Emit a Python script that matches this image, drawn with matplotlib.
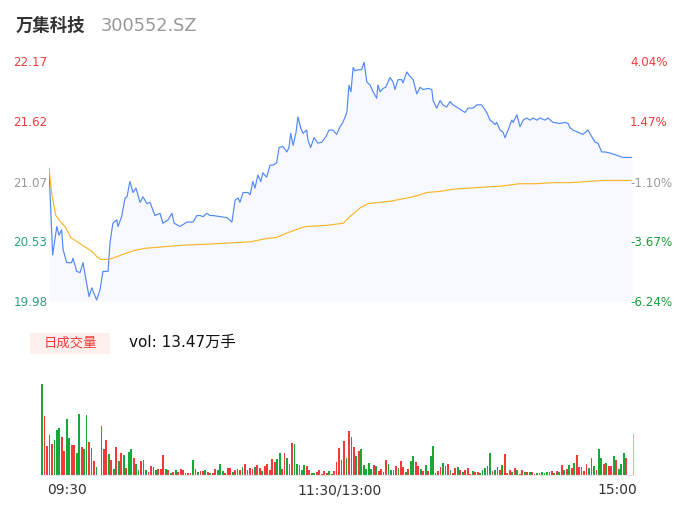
import matplotlib
matplotlib.use("Agg")
import matplotlib.pyplot as plt
from matplotlib.patches import Rectangle
import matplotlib.transforms as transforms

plt.rcParams['font.family'] = ['DejaVu Sans', 'Noto Sans CJK SC']

# Stock info / header texts
stock_name = "万集科技"
stock_code = "300552.SZ"
vol_badge = "日成交量"
vol_text = "vol: 13.47万手"

# Price axis labels (left = price, right = change)
price_ticks = [22.17, 21.62, 21.07, 20.53, 19.98]
pct_labels = ["4.04%", "1.47%", "-1.10%", "-3.67%", "-6.24%"]
tick_side = ["up", "up", "flat", "down", "down"]
time_labels = ["09:30", "11:30/13:00", "15:00"]

# Intraday price (minutes since 09:30, trading minutes only)
price_t = [0, 1.5, 3.2, 4.1, 5.2, 5.8, 7.3, 9.3, 9.9, 11.4,
           12.8, 14.0, 15.5, 16.5, 17.6, 18.5, 19.6, 21.0, 22.2, 24.3,
           25.1, 26.3, 27.9, 28.4, 29.9, 31.3, 32.1, 33.3, 34.6, 35.8,
           37.5, 38.7, 40.3, 41.6, 43.6, 45.7, 46.9, 49.0, 50.6, 51.5,
           53.9, 56.8, 59.3, 60.9, 62.2, 63.4, 65.0, 66.3, 67.5, 70.4,
           73.3, 75.3, 76.6, 77.8, 78.6, 79.9, 81.9, 82.8, 83.9, 84.8,
           86.0, 87.2, 88.0, 89.6, 91.0, 92.2, 93.7, 94.7, 96.3, 97.9,
           98.8, 99.5, 100.5, 101.7, 102.5, 103.6, 104.6, 106.1, 106.6, 107.7,
           109.1, 110.7, 112.3, 114.0, 115.3, 116.9, 118.4, 119.8, 121.0, 122.6,
           123.5, 124.3, 125.2, 126.0, 127.2, 128.7, 129.7, 130.8, 132.2, 133.4,
           134.9, 135.4, 136.3, 137.5, 138.6, 140.4, 141.6, 142.4, 143.7, 145.2,
           145.7, 147.3, 148.6, 149.9, 151.4, 152.8, 154.0, 156.0, 157.6, 158.1,
           159.6, 161.0, 162.2, 163.7, 165.1, 166.3, 167.8, 169.9, 171.3, 172.5,
           174.6, 176.1, 178.1, 180.2, 181.6, 182.8, 183.6, 184.3, 185.7, 186.9,
           187.7, 189.0, 190.5, 191.1, 192.6, 193.9, 195.2, 196.7, 198.0, 199.3,
           200.8, 202.1, 204.2, 205.4, 207.5, 210.4, 212.4, 213.7, 214.5, 215.7,
           217.8, 219.8, 221.9, 223.4, 224.8, 226.0, 227.5, 228.9, 230.9, 233.7,
           236.3, 237.8, 240]
price = [21.19, 20.40, 20.66, 20.58, 20.63, 20.45, 20.33, 20.33, 20.37, 20.25,
         20.24, 20.33, 20.14, 20.02, 20.10, 20.05, 19.99, 20.08, 20.25, 20.25,
         20.51, 20.69, 20.72, 20.66, 20.75, 20.92, 20.93, 21.07, 20.97, 21.01,
         20.88, 20.93, 20.87, 20.88, 20.76, 20.78, 20.69, 20.72, 20.78, 20.69,
         20.66, 20.70, 20.70, 20.76, 20.76, 20.75, 20.78, 20.76, 20.76, 20.75,
         20.74, 20.70, 20.90, 20.92, 20.88, 20.97, 20.97, 20.95, 21.07, 21.01,
         21.13, 21.07, 21.15, 21.11, 21.22, 21.22, 21.24, 21.38, 21.39, 21.34,
         21.38, 21.51, 21.40, 21.52, 21.66, 21.56, 21.51, 21.54, 21.45, 21.38,
         21.47, 21.42, 21.43, 21.48, 21.54, 21.54, 21.50, 21.57, 21.61, 21.70,
         21.95, 21.89, 22.11, 22.08, 22.09, 22.09, 22.16, 21.98, 21.95, 21.89,
         21.83, 21.95, 21.89, 21.92, 21.93, 22.02, 21.98, 21.91, 22.00, 22.00,
         21.97, 22.07, 22.03, 22.00, 21.87, 21.93, 21.91, 21.92, 21.91, 21.81,
         21.74, 21.81, 21.77, 21.75, 21.80, 21.77, 21.75, 21.72, 21.70, 21.74,
         21.74, 21.77, 21.77, 21.70, 21.63, 21.61, 21.59, 21.61, 21.54, 21.52,
         21.47, 21.54, 21.63, 21.61, 21.68, 21.57, 21.63, 21.65, 21.63, 21.65,
         21.63, 21.65, 21.63, 21.65, 21.61, 21.60, 21.61, 21.60, 21.56, 21.54,
         21.52, 21.50, 21.54, 21.48, 21.43, 21.42, 21.34, 21.34, 21.33, 21.31,
         21.29, 21.29, 21.29]

# Average price line
avg_t = [0, 1.2, 2.8, 4.8, 6.9, 8.9, 11.7, 13.7, 15.8, 17.8,
         19.9, 21.3, 24.7, 27.5, 30.9, 35.0, 39.1, 44.6, 50.1, 55.6,
         66.6, 74.8, 82.8, 89.6, 93.7, 97.9, 104.0, 106.1, 114.3, 121.2,
         123.9, 128.1, 131.5, 136.3, 140.4, 147.3, 151.4, 155.5, 161.0, 166.2,
         173.0, 179.9, 186.8, 193.6, 200.5, 207.4, 214.2, 221.1, 228.0, 233.4,
         240]
avg = [21.19, 20.95, 20.76, 20.70, 20.65, 20.56, 20.52, 20.49, 20.46, 20.43,
       20.38, 20.36, 20.36, 20.38, 20.41, 20.44, 20.46, 20.47, 20.48, 20.49,
       20.50, 20.51, 20.52, 20.55, 20.56, 20.60, 20.65, 20.66, 20.67, 20.69,
       20.75, 20.83, 20.87, 20.88, 20.89, 20.92, 20.94, 20.97, 20.98, 21.00,
       21.01, 21.02, 21.03, 21.05, 21.05, 21.06, 21.06, 21.07, 21.08, 21.08,
       21.08]

# Per-minute volume (relative) and direction: r = up, g = down, p = closing auction
vol = [91, 58.7, 28.7, 39.7, 31.3, 34.7, 44.7, 47, 38, 23.7,
       56.3, 37, 30.3, 30.3, 22, 61, 28, 26, 59.7, 32.7,
       27, 14.3, 8, 0, 49.3, 26, 35.3, 21, 15.3, 6,
       28, 14.3, 22, 19.7, 7, 23, 26.3, 17, 11, 5,
       13.7, 15, 5, 3.3, 8.7, 7.7, 5, 6, 6, 19.7,
       6, 5, 2.3, 3, 4.7, 3, 6.3, 5, 2, 2,
       2, 14.7, 6, 3, 3.7, 4.3, 4.7, 2.7, 2, 2,
       6.3, 5, 11.3, 4, 2, 7.3, 7.3, 3.3, 4.7, 6,
       5, 7.7, 11, 5, 7, 6.3, 8, 9.7, 7, 3.7,
       8.7, 11.3, 5, 16.3, 13, 16, 21.7, 6.3, 22, 17,
       10.7, 32, 31, 11, 10, 5.3, 10, 9.3, 5, 2,
       2, 3, 4.7, 1, 4, 2, 3.7, 1, 4, 12.7,
       27, 15.3, 33.7, 17, 44.3, 38, 28, 19.3, 24, 26,
       9.7, 5.7, 12, 6.3, 10, 8.7, 4, 6, 3.3, 15,
       10.7, 5.3, 5, 9, 7, 14.3, 8, 3, 6, 14,
       19, 13, 9.3, 6.3, 3.7, 10.3, 3.7, 19, 29.3, 2,
       3.7, 7.7, 11.7, 9, 10.7, 5, 2, 6.7, 7.7, 5,
       2.7, 5, 7.3, 1, 3.7, 2.7, 2.7, 1.7, 4.7, 6.7,
       9, 22, 4, 5.3, 8, 5, 9.7, 20.7, 2, 5,
       3.3, 7.3, 5, 1, 4.7, 2.7, 3.3, 3, 2.7, 1.3,
       2, 2.3, 2.7, 1.7, 3.3, 3.3, 4.3, 2, 3.7, 3.3,
       10.3, 4.7, 5.7, 9.7, 6.7, 11.7, 20.3, 8.3, 8.3, 3.7,
       10.7, 6.7, 16.7, 8.7, 5, 26, 16.7, 10.7, 12.3, 9,
       9.3, 19, 14.7, 6.3, 10.7, 22.3, 16.7, 0, 0, 41.3]
vol_dir = ("grrgrgggrrggrrggrggrrrg" + "r" + "rrrgrgrgrg" + "rggrggrggr"
           + "rggrrrgrgr" + "grrrrrrgrg" + "rrgrgrrggg" + "rrrgr" + "r"
           + "rgrgrrgrrg" + "rrrrrggrrg" + "rrggrggrrg" + "grrrrrggrr"
           + "rrrgrgrgrg" + "ggggrgrrgr" + "gggrgrrgrg" + "grrgrgrg" + "g"
           + "rrrgrrgrrg" + "rgrrrgrrgg" + "gggrggrgrr" + "rgrgrrgrgr"
           + "rgrggggrgr" + "grgrgrgrrg" + "rrgggrggrg" + "rrgrgggr" + "rr" + "p")

W, H = 686, 524
UP, DOWN, FLAT = '#f23b3b', '#1b9e3e', '#9a9a9a'
BAR_COLORS = {'r': '#f5393b', 'g': '#18a83a', 'p': '#ffa3a3'}


# Price panel: line, filled area, average line and both label columns
def plot_price(fig):
    ax = fig.add_axes([49 / W, 1 - 301 / H, 583 / W, 240 / H])
    ax.fill_between(price_t, price, price_ticks[-1], color='#f7f9fe', lw=0)
    ax.plot(price_t, price, color='#5088f5', lw=0.85)
    ax.plot(avg_t, avg, color='#fbb628', lw=0.85)
    ax.set_xlim(0, 240)
    ax.set_ylim(price_ticks[-1], price_ticks[0])
    ax.axis('off')

    trans = transforms.blended_transform_factory(ax.transAxes, ax.transData)
    left_col = {'up': UP, 'flat': FLAT, 'down': '#2ea37a'}
    right_col = {'up': UP, 'flat': FLAT, 'down': DOWN}
    for p, lab, side in zip(price_ticks, pct_labels, tick_side):
        ax.text(-0.003, p, "%.2f" % p, transform=trans, ha='right',
                va='center_baseline', fontsize=8.6, color=left_col[side])
        ax.text(0.9966, p, lab, transform=trans, ha='left',
                va='center_baseline', fontsize=8.6, color=right_col[side])
    return ax


# Volume panel: one bar per minute
def plot_volume(fig):
    ax = fig.add_axes([40.8 / W, 1 - 475 / H, 594 / W, 91 / H])
    xs = list(range(len(vol)))
    cols = [BAR_COLORS[d] for d in vol_dir]
    ax.bar(xs, vol, width=0.72, color=cols, linewidth=0)
    ax.set_xlim(-0.5, len(vol) - 0.5)
    ax.set_ylim(0, max(vol))
    for s in ['top', 'left', 'right']:
        ax.spines[s].set_visible(False)
    ax.spines['bottom'].set_color('#e6e6e6')
    ax.spines['bottom'].set_linewidth(0.8)
    ax.set_xticks([])
    ax.set_yticks([])
    return ax


def main():
    fig = plt.figure(figsize=(W / 100, H / 100), dpi=100)

    # header
    fig.text(16 / W, 1 - 26 / H, stock_name, fontsize=12.5, fontweight='bold',
             color='#333333', va='center', ha='left')
    fig.text(101 / W, 1 - 26 / H, stock_code, fontsize=12.8,
             color='#999999', va='center', ha='left')

    plot_price(fig)

    # volume badge + text
    fig.patches.append(Rectangle((30 / W, 1 - 354 / H), 80 / W, 21 / H,
                                 transform=fig.transFigure, color='#fdf0ec', lw=0))
    fig.text(70 / W, 1 - 343.5 / H, vol_badge, fontsize=9.6, color='#f23b3b',
             ha='center', va='center')
    fig.text(129 / W, 1 - 342 / H, vol_text, fontsize=11, color='#111111',
             ha='left', va='center')

    plot_volume(fig)

    # time axis labels
    fig.text(47 / W, 1 - 490 / H, time_labels[0], fontsize=10, color='#333333',
             ha='left', va='center')
    fig.text(340 / W, 1 - 490 / H, time_labels[1], fontsize=10, color='#333333',
             ha='center', va='center')
    fig.text(637 / W, 1 - 490 / H, time_labels[2], fontsize=10, color='#333333',
             ha='right', va='center')

    fig.savefig("out.png", dpi=100)


if __name__ == '__main__':
    main()
